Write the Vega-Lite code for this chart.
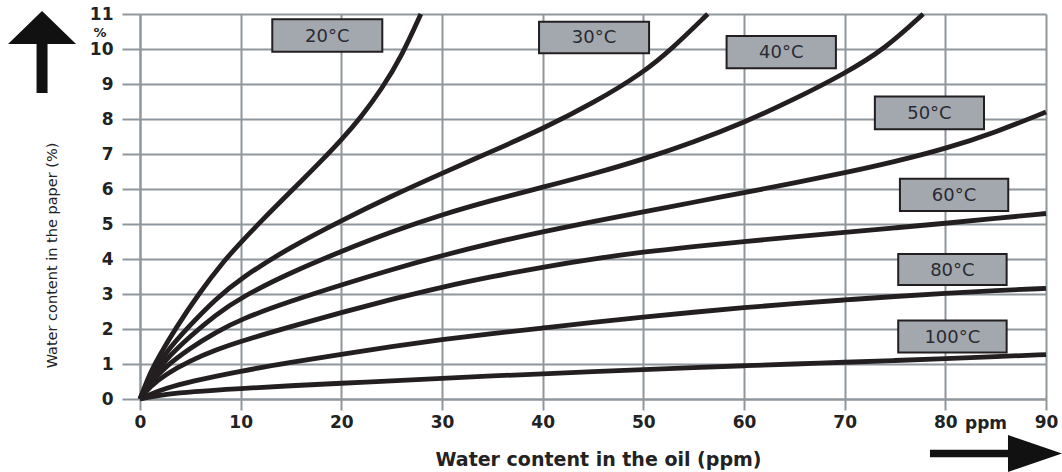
{
  "$schema": "https://vega.github.io/schema/vega-lite/v6.json",
  "width": 906,
  "height": 385,
  "autosize": {"type": "none"},
  "padding": {"left": 140, "top": 14, "right": 16, "bottom": 73},
  "background": "#ffffff",
  "config": {
    "view": {"stroke": null},
    "axis": {
      "gridColor": "#8f969c", "gridWidth": 2, "gridOpacity": 1,
      "tickColor": "#8f969c", "tickWidth": 2,
      "domainColor": "#8f969c", "domainWidth": 2,
      "labelFont": "DejaVu Sans", "labelFontWeight": "bold", "labelFontSize": 17, "labelColor": "#222222",
      "labelFlush": false, "labelBound": false,
      "titleColor": "#222222"
    }
  },
  "datasets": {
    "curves": [
      {"temp": "20°C", "oil": 0, "paper": 0},
      {"temp": "20°C", "oil": 1, "paper": 0.75},
      {"temp": "20°C", "oil": 2, "paper": 1.28},
      {"temp": "20°C", "oil": 3.5, "paper": 2.0},
      {"temp": "20°C", "oil": 5.8, "paper": 3.0},
      {"temp": "20°C", "oil": 8.5, "paper": 4.0},
      {"temp": "20°C", "oil": 10, "paper": 4.47},
      {"temp": "20°C", "oil": 12, "paper": 5.07},
      {"temp": "20°C", "oil": 14, "paper": 5.65},
      {"temp": "20°C", "oil": 16, "paper": 6.22},
      {"temp": "20°C", "oil": 18, "paper": 6.8},
      {"temp": "20°C", "oil": 20, "paper": 7.4},
      {"temp": "20°C", "oil": 22, "paper": 8.07},
      {"temp": "20°C", "oil": 24, "paper": 8.85},
      {"temp": "20°C", "oil": 26, "paper": 9.8},
      {"temp": "20°C", "oil": 27.9, "paper": 11},
      {"temp": "30°C", "oil": 0, "paper": 0},
      {"temp": "30°C", "oil": 1, "paper": 0.62},
      {"temp": "30°C", "oil": 2.5, "paper": 1.32},
      {"temp": "30°C", "oil": 5, "paper": 2.12},
      {"temp": "30°C", "oil": 7.5, "paper": 2.85},
      {"temp": "30°C", "oil": 10, "paper": 3.45},
      {"temp": "30°C", "oil": 15, "paper": 4.35},
      {"temp": "30°C", "oil": 20, "paper": 5.1},
      {"temp": "30°C", "oil": 25, "paper": 5.8},
      {"temp": "30°C", "oil": 30, "paper": 6.45},
      {"temp": "30°C", "oil": 35, "paper": 7.08},
      {"temp": "30°C", "oil": 40, "paper": 7.72},
      {"temp": "30°C", "oil": 45, "paper": 8.45},
      {"temp": "30°C", "oil": 50, "paper": 9.32},
      {"temp": "30°C", "oil": 53, "paper": 10.05},
      {"temp": "30°C", "oil": 56.4, "paper": 11},
      {"temp": "40°C", "oil": 0, "paper": 0},
      {"temp": "40°C", "oil": 1, "paper": 0.52},
      {"temp": "40°C", "oil": 2.5, "paper": 1.12},
      {"temp": "40°C", "oil": 5, "paper": 1.8},
      {"temp": "40°C", "oil": 7.5, "paper": 2.4},
      {"temp": "40°C", "oil": 10, "paper": 2.9},
      {"temp": "40°C", "oil": 15, "paper": 3.62},
      {"temp": "40°C", "oil": 20, "paper": 4.22},
      {"temp": "40°C", "oil": 25, "paper": 4.78},
      {"temp": "40°C", "oil": 30, "paper": 5.27},
      {"temp": "40°C", "oil": 35, "paper": 5.68},
      {"temp": "40°C", "oil": 40, "paper": 6.05},
      {"temp": "40°C", "oil": 45, "paper": 6.43},
      {"temp": "40°C", "oil": 50, "paper": 6.85},
      {"temp": "40°C", "oil": 55, "paper": 7.34},
      {"temp": "40°C", "oil": 60, "paper": 7.9},
      {"temp": "40°C", "oil": 65, "paper": 8.56},
      {"temp": "40°C", "oil": 70, "paper": 9.3},
      {"temp": "40°C", "oil": 74, "paper": 10.0},
      {"temp": "40°C", "oil": 77.8, "paper": 11},
      {"temp": "50°C", "oil": 0, "paper": 0},
      {"temp": "50°C", "oil": 1, "paper": 0.46},
      {"temp": "50°C", "oil": 2.5, "paper": 0.92},
      {"temp": "50°C", "oil": 5, "paper": 1.46},
      {"temp": "50°C", "oil": 7.5, "paper": 1.9},
      {"temp": "50°C", "oil": 10, "paper": 2.28},
      {"temp": "50°C", "oil": 15, "paper": 2.8},
      {"temp": "50°C", "oil": 20, "paper": 3.26},
      {"temp": "50°C", "oil": 25, "paper": 3.7},
      {"temp": "50°C", "oil": 30, "paper": 4.1},
      {"temp": "50°C", "oil": 35, "paper": 4.46},
      {"temp": "50°C", "oil": 40, "paper": 4.78},
      {"temp": "50°C", "oil": 45, "paper": 5.07},
      {"temp": "50°C", "oil": 50, "paper": 5.35},
      {"temp": "50°C", "oil": 55, "paper": 5.62},
      {"temp": "50°C", "oil": 60, "paper": 5.9},
      {"temp": "50°C", "oil": 65, "paper": 6.17},
      {"temp": "50°C", "oil": 70, "paper": 6.46},
      {"temp": "50°C", "oil": 75, "paper": 6.78},
      {"temp": "50°C", "oil": 80, "paper": 7.15},
      {"temp": "50°C", "oil": 85, "paper": 7.62},
      {"temp": "50°C", "oil": 90, "paper": 8.2},
      {"temp": "60°C", "oil": 0, "paper": 0},
      {"temp": "60°C", "oil": 1, "paper": 0.36},
      {"temp": "60°C", "oil": 2.5, "paper": 0.7},
      {"temp": "60°C", "oil": 5, "paper": 1.1},
      {"temp": "60°C", "oil": 7.5, "paper": 1.4},
      {"temp": "60°C", "oil": 10, "paper": 1.65},
      {"temp": "60°C", "oil": 15, "paper": 2.07},
      {"temp": "60°C", "oil": 20, "paper": 2.47},
      {"temp": "60°C", "oil": 25, "paper": 2.85},
      {"temp": "60°C", "oil": 30, "paper": 3.2},
      {"temp": "60°C", "oil": 35, "paper": 3.5},
      {"temp": "60°C", "oil": 40, "paper": 3.77},
      {"temp": "60°C", "oil": 45, "paper": 4.0},
      {"temp": "60°C", "oil": 50, "paper": 4.2},
      {"temp": "60°C", "oil": 55, "paper": 4.36},
      {"temp": "60°C", "oil": 60, "paper": 4.5},
      {"temp": "60°C", "oil": 65, "paper": 4.63},
      {"temp": "60°C", "oil": 70, "paper": 4.76},
      {"temp": "60°C", "oil": 75, "paper": 4.89},
      {"temp": "60°C", "oil": 80, "paper": 5.02},
      {"temp": "60°C", "oil": 85, "paper": 5.16},
      {"temp": "60°C", "oil": 90, "paper": 5.3},
      {"temp": "80°C", "oil": 0, "paper": 0},
      {"temp": "80°C", "oil": 1, "paper": 0.13},
      {"temp": "80°C", "oil": 2.5, "paper": 0.3},
      {"temp": "80°C", "oil": 5, "paper": 0.5},
      {"temp": "80°C", "oil": 10, "paper": 0.8},
      {"temp": "80°C", "oil": 15, "paper": 1.05},
      {"temp": "80°C", "oil": 20, "paper": 1.28},
      {"temp": "80°C", "oil": 25, "paper": 1.5},
      {"temp": "80°C", "oil": 30, "paper": 1.7},
      {"temp": "80°C", "oil": 35, "paper": 1.87},
      {"temp": "80°C", "oil": 40, "paper": 2.03},
      {"temp": "80°C", "oil": 45, "paper": 2.19},
      {"temp": "80°C", "oil": 50, "paper": 2.34},
      {"temp": "80°C", "oil": 55, "paper": 2.48},
      {"temp": "80°C", "oil": 60, "paper": 2.61},
      {"temp": "80°C", "oil": 65, "paper": 2.73},
      {"temp": "80°C", "oil": 70, "paper": 2.83},
      {"temp": "80°C", "oil": 75, "paper": 2.93},
      {"temp": "80°C", "oil": 80, "paper": 3.02},
      {"temp": "80°C", "oil": 85, "paper": 3.1},
      {"temp": "80°C", "oil": 90, "paper": 3.16},
      {"temp": "100°C", "oil": 0, "paper": 0},
      {"temp": "100°C", "oil": 1, "paper": 0.06},
      {"temp": "100°C", "oil": 2.5, "paper": 0.13},
      {"temp": "100°C", "oil": 5, "paper": 0.21},
      {"temp": "100°C", "oil": 10, "paper": 0.3},
      {"temp": "100°C", "oil": 15, "paper": 0.38},
      {"temp": "100°C", "oil": 20, "paper": 0.45},
      {"temp": "100°C", "oil": 25, "paper": 0.52},
      {"temp": "100°C", "oil": 30, "paper": 0.59},
      {"temp": "100°C", "oil": 35, "paper": 0.66},
      {"temp": "100°C", "oil": 40, "paper": 0.72},
      {"temp": "100°C", "oil": 45, "paper": 0.78},
      {"temp": "100°C", "oil": 50, "paper": 0.84},
      {"temp": "100°C", "oil": 55, "paper": 0.9},
      {"temp": "100°C", "oil": 60, "paper": 0.95},
      {"temp": "100°C", "oil": 65, "paper": 1.0},
      {"temp": "100°C", "oil": 70, "paper": 1.05},
      {"temp": "100°C", "oil": 75, "paper": 1.1},
      {"temp": "100°C", "oil": 80, "paper": 1.15},
      {"temp": "100°C", "oil": 85, "paper": 1.21},
      {"temp": "100°C", "oil": 90, "paper": 1.27}
    ],
    "boxes": [
      {"label": "20°C", "x1": 13.14, "x2": 24.07, "y1": 10.85, "y2": 9.92, "xc": 18.6, "yc": 10.385},
      {"label": "30°C", "x1": 39.64, "x2": 50.57, "y1": 10.78, "y2": 9.88, "xc": 45.1, "yc": 10.33},
      {"label": "40°C", "x1": 58.27, "x2": 69.13, "y1": 10.37, "y2": 9.45, "xc": 63.7, "yc": 9.91},
      {"label": "50°C", "x1": 73.0, "x2": 83.84, "y1": 8.64, "y2": 7.71, "xc": 78.42, "yc": 8.175},
      {"label": "60°C", "x1": 75.49, "x2": 86.25, "y1": 6.29, "y2": 5.37, "xc": 80.87, "yc": 5.83},
      {"label": "80°C", "x1": 75.32, "x2": 86.09, "y1": 4.14, "y2": 3.26, "xc": 80.7, "yc": 3.7},
      {"label": "100°C", "x1": 75.32, "x2": 86.09, "y1": 2.24, "y2": 1.33, "xc": 80.7, "yc": 1.785}
    ],
    "uparrow": [{"x": -9.73, "y": 9.914}],
    "rightarrow": [{"x": 85.03, "y": -1.557}],
    "percent": [{"text": "%", "x": -3.97, "y": 10.35}],
    "ppm": [{"text": "ppm", "x": 84.04, "y": -0.857}]
  },
  "layer": [
    {
      "data": {"name": "curves"},
      "mark": {"type": "line", "interpolate": "basis", "color": "#231f20", "strokeWidth": 4.8},
      "encoding": {
        "x": {
          "field": "oil", "type": "quantitative",
          "scale": {"domain": [0, 90], "nice": false},
          "axis": {
            "values": [0, 10, 20, 30, 40, 50, 60, 70, 80, 90],
            "grid": true, "tickSize": 11, "labelPadding": 4,
            "labelOverlap": false, "labelFlush": false,
            "title": "Water content in the oil (ppm)",
            "titleFont": "DejaVu Sans", "titleFontWeight": "bold", "titleFontSize": 19,
            "titleX": 458, "titleY": 66, "titleBaseline": "alphabetic", "titleAlign": "center"
          }
        },
        "y": {
          "field": "paper", "type": "quantitative",
          "scale": {"domain": [0, 11], "nice": false},
          "axis": {
            "values": [0, 1, 2, 3, 4, 5, 6, 7, 8, 9, 10, 11],
            "tickCount": 12,
            "grid": true, "tickSize": 18, "labelPadding": 9,
            "labelOverlap": "greedy", "labelSeparation": -20, "labelFlush": false,
            "title": "Water content in the paper (%)",
            "titleFont": "DejaVu Sans", "titleFontWeight": "normal", "titleFontSize": 14.5,
            "titleX": -84, "titleY": 241, "titleBaseline": "alphabetic", "titleAlign": "center"
          }
        },
        "detail": {"field": "temp", "type": "nominal"}
      }
    },
    {
      "data": {"name": "boxes"},
      "mark": {"type": "rect", "fill": "#a3a8ae", "stroke": "#231f20", "strokeWidth": 2},
      "encoding": {
        "x": {"field": "x1", "type": "quantitative"},
        "x2": {"field": "x2"},
        "y": {"field": "y1", "type": "quantitative"},
        "y2": {"field": "y2"}
      }
    },
    {
      "data": {"name": "boxes"},
      "mark": {"type": "text", "font": "DejaVu Sans", "fontSize": 18, "color": "#2a2a33", "baseline": "middle", "align": "center", "dy": 1},
      "encoding": {
        "x": {"field": "xc", "type": "quantitative"},
        "y": {"field": "yc", "type": "quantitative"},
        "text": {"field": "label"}
      }
    },
    {
      "data": {"name": "uparrow"},
      "mark": {"type": "point", "filled": true, "color": "#111111", "opacity": 1, "size": 6724,
               "shape": "M0,-1L0.829,-0.195L0.134,-0.195L0.134,1L-0.134,1L-0.134,-0.195L-0.829,-0.195Z"},
      "encoding": {
        "x": {"field": "x", "type": "quantitative"},
        "y": {"field": "y", "type": "quantitative"}
      }
    },
    {
      "data": {"name": "rightarrow"},
      "mark": {"type": "point", "filled": true, "color": "#111111", "opacity": 1, "size": 17424,
               "shape": "M1,0L0.182,-0.28L0.182,-0.055L-1,-0.055L-1,0.055L0.182,0.055L0.182,0.28Z"},
      "encoding": {
        "x": {"field": "x", "type": "quantitative"},
        "y": {"field": "y", "type": "quantitative"}
      }
    },
    {
      "data": {"name": "percent"},
      "mark": {"type": "text", "font": "DejaVu Sans", "fontWeight": "bold", "fontSize": 13, "color": "#222222", "baseline": "alphabetic", "align": "center"},
      "encoding": {
        "x": {"field": "x", "type": "quantitative"},
        "y": {"field": "y", "type": "quantitative"},
        "text": {"field": "text"}
      }
    },
    {
      "data": {"name": "ppm"},
      "mark": {"type": "text", "font": "DejaVu Sans", "fontWeight": "bold", "fontSize": 17, "color": "#222222", "baseline": "alphabetic", "align": "center"},
      "encoding": {
        "x": {"field": "x", "type": "quantitative"},
        "y": {"field": "y", "type": "quantitative"},
        "text": {"field": "text"}
      }
    }
  ]
}
